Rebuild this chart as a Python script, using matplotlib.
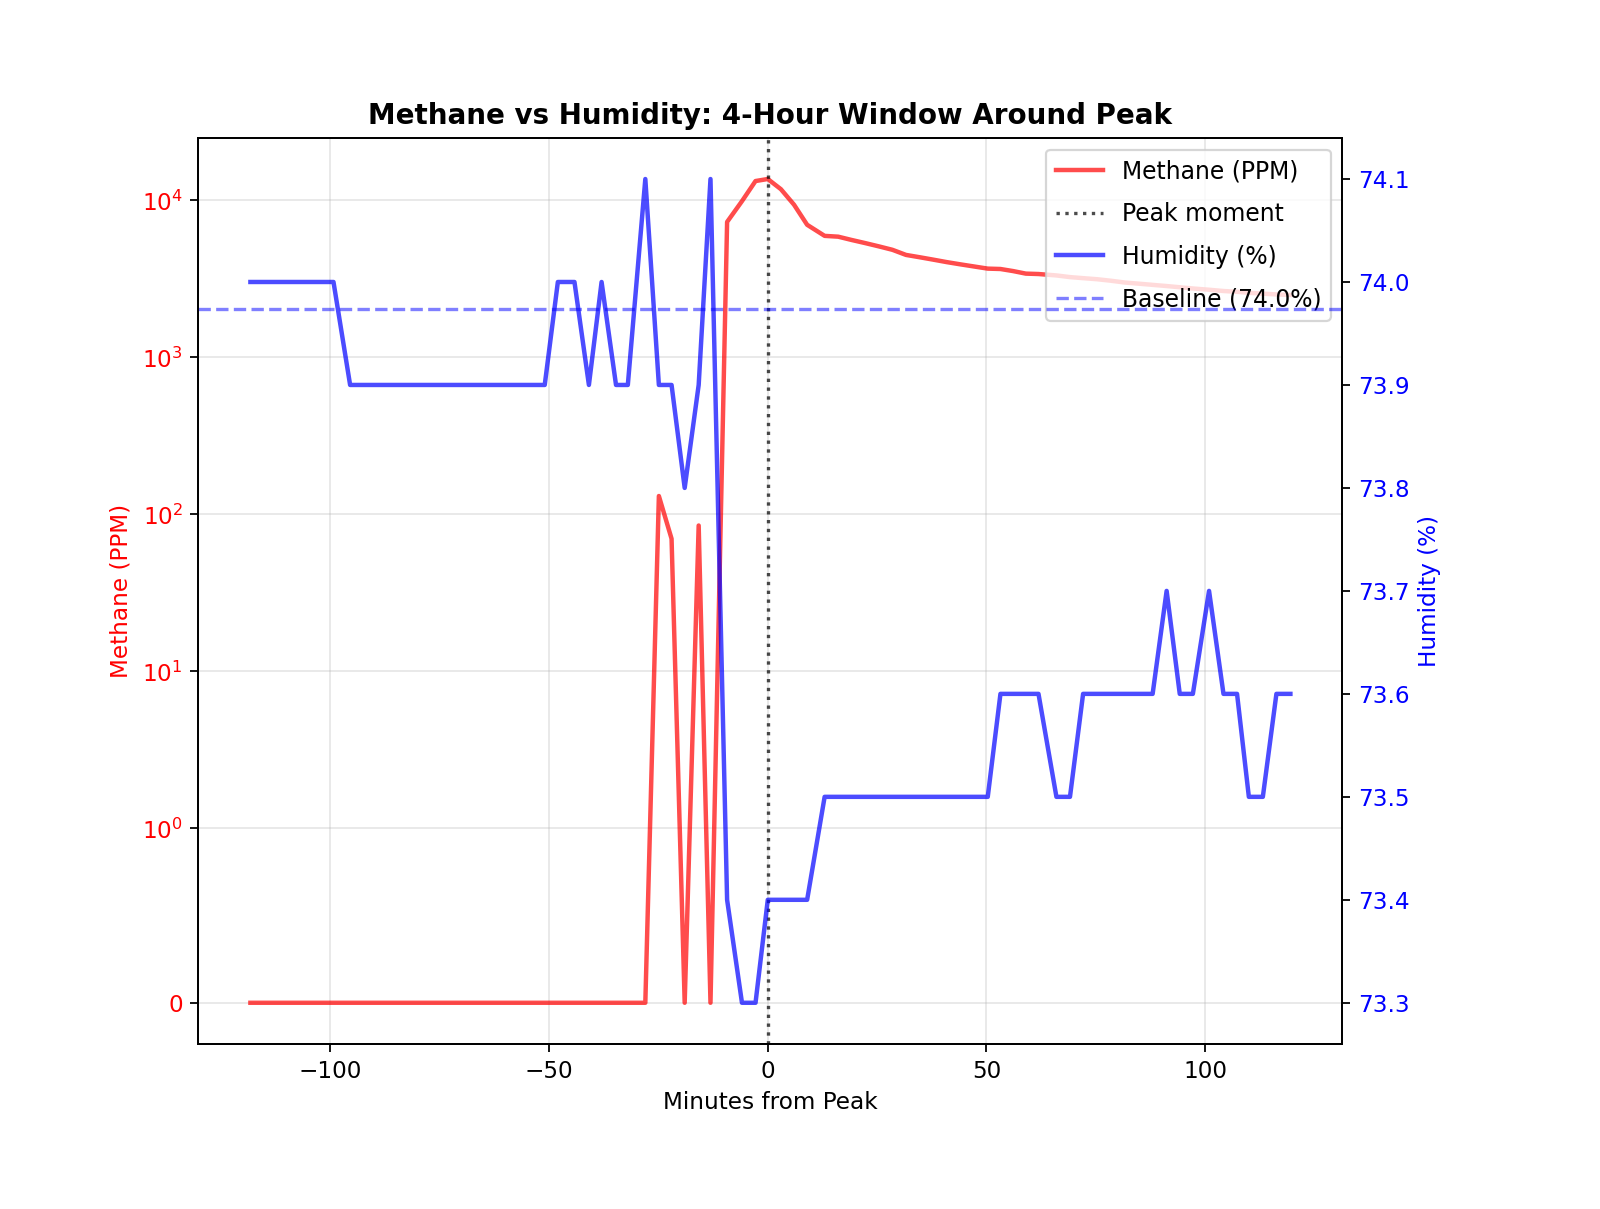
import matplotlib
matplotlib.use("Agg")
import matplotlib.pyplot as plt
from matplotlib.ticker import NullLocator

plt.rcParams["font.size"] = 10.4

# minutes relative to the methane peak
minutes = [-118.3, -115.1, -112.0, -108.8, -105.6, -102.5, -99.3,
           -95.5, -92.3, -89.1, -86.0, -82.8, -79.6, -76.4, -73.2, -70.1, -66.9, -63.7, -60.5, -57.3, -54.2, -51.0,
           -48.0, -44.2, -40.9, -38.0, -34.7, -32.0, -28.0, -24.9, -22.0, -19.0, -15.8, -13.1, -9.3, -5.9, -2.8, 0.0,
           3.0, 6.0, 9.0, 13.0, 16.1, 19.2, 22.3, 25.4, 28.5, 31.6, 34.7, 37.8, 40.9, 44.0, 47.1, 50.3,
           53.2, 56.1, 59.0, 61.9, 66.0, 69.1, 72.1, 75.3, 78.5, 81.7, 84.9, 88.0, 91.2, 94.2, 97.2,
           100.9, 104.2, 107.3, 110.0, 113.2, 116.3, 119.5]

methane_ppm = [0, 0, 0, 0, 0, 0, 0,
               0, 0, 0, 0, 0, 0, 0, 0, 0, 0, 0, 0, 0, 0, 0,
               0, 0, 0, 0, 0, 0, 0, 131, 70, 0, 85, 0, 7300, 9900, 13300, 13700,
               11800, 9400, 7000, 5950, 5880, 5600, 5350, 5100, 4850, 4500, 4350, 4200, 4050, 3920, 3800, 3680,
               3660, 3550, 3420, 3400, 3330, 3250, 3200, 3150, 3080, 3000, 2950, 2900, 2850, 2800, 2750,
               2700, 2650, 2620, 2580, 2550, 2520, 2500]

humidity = [74.0, 74.0, 74.0, 74.0, 74.0, 74.0, 74.0,
            73.9, 73.9, 73.9, 73.9, 73.9, 73.9, 73.9, 73.9, 73.9, 73.9, 73.9, 73.9, 73.9, 73.9, 73.9,
            74.0, 74.0, 73.9, 74.0, 73.9, 73.9, 74.1, 73.9, 73.9, 73.8, 73.9, 74.1, 73.4, 73.3, 73.3, 73.4,
            73.4, 73.4, 73.4, 73.5, 73.5, 73.5, 73.5, 73.5, 73.5, 73.5, 73.5, 73.5, 73.5, 73.5, 73.5, 73.5,
            73.6, 73.6, 73.6, 73.6, 73.5, 73.5, 73.6, 73.6, 73.6, 73.6, 73.6, 73.6, 73.7, 73.6, 73.6,
            73.7, 73.6, 73.6, 73.5, 73.5, 73.6, 73.6]

baseline_humidity = 73.974

fig, ax = plt.subplots(figsize=(10, 1209 / 160), dpi=160)
fig.subplots_adjust(left=0.124, right=0.839, top=0.886, bottom=0.1365)

l1, = ax.plot(minutes, methane_ppm, color="red", linewidth=2, alpha=0.7, label="Methane (PPM)")
ax.set_yscale("symlog", linthresh=1)
ax.yaxis.set_minor_locator(NullLocator())
l2 = ax.axvline(0, color="black", linestyle=":", alpha=0.7, label="Peak moment")
ax.set_xlabel("Minutes from Peak")
ax.set_ylabel("Methane (PPM)", color="red")
ax.tick_params(axis="y", labelcolor="red")
ax.grid(True, alpha=0.3)

ax2 = ax.twinx()
l3, = ax2.plot(minutes, humidity, color="blue", linewidth=2, alpha=0.7, label="Humidity (%)")
l4 = ax2.axhline(baseline_humidity, color="blue", linestyle="--", alpha=0.5,
                 label="Baseline ({:.1f}%)".format(baseline_humidity))
ax2.set_ylabel("Humidity (%)", color="blue")
ax2.tick_params(axis="y", labelcolor="blue")

ax.legend(handles=[l1, l2, l3, l4], loc="upper right", fontsize=10.6, labelspacing=0.8)
ax.set_title("Methane vs Humidity: 4-Hour Window Around Peak", fontweight="bold", fontsize=12.5)

fig.savefig("out.png", dpi=160)
